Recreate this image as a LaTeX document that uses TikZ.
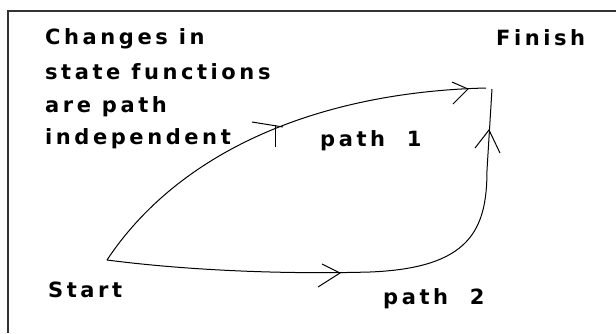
\documentclass[tikz,border=0pt]{standalone}
\usepackage{fontspec}
\setmainfont{DejaVu Sans}
\newfontfamily\lblfont[LetterSpace=17]{DejaVu Sans}
\begin{document}
\begin{tikzpicture}[x=1pt,y=-1pt,
  lbl/.style={inner sep=0pt,anchor=base west,font=\lblfont\bfseries\fontsize{21}{24}\selectfont},
  curve/.style={line width=1pt,black},
  barb/.style={line width=1pt,black},
  frame/.style={line width=2pt,black!80}]
\useasboundingbox (0,0) rectangle (616,333);
\fill[white] (0,0) rectangle (616,333);
% frame (only top and left edges visible)
\draw[frame] (616,11) -- (8,11) -- (8,333);
% text
\node[lbl] (t1) at (45,44) {Changes in};
\node[lbl] (t2) at (45,79) {state functions};
\node[lbl] (t3) at (45,112) {are path};
\node[lbl] (t4) at (45,144) {independent};
\node[lbl] (fin) at (496,45) {Finish};
\node[lbl] (st) at (48,297) {Start};
\node[lbl] (p1) at (320,146) {path\ \ 1};
\node[lbl] (p2) at (383,304) {path\ \ 2};
% points
\coordinate (S) at (107,260);
\coordinate (F) at (486,88);
\coordinate (F2) at (492,89);
% path 1
\draw[curve] (S) .. controls (180,150) and (320,92) .. (F);
\draw[barb] (452,82) -- (468,89) -- (453,104);
\draw[barb] (252,122) -- (283,127);
\draw[barb] (275,125) -- (275,147);
% path 2
\draw[curve] (S) .. controls (200,272) and (300,274) .. (370,272)
  .. controls (470,268) and (487,230) .. (487,170) -- (F2);
\draw[barb] (322,264) -- (340,273) -- (318,287);
\draw[barb] (475,148) -- (489,130) -- (500,153);
\end{tikzpicture}
\end{document}
